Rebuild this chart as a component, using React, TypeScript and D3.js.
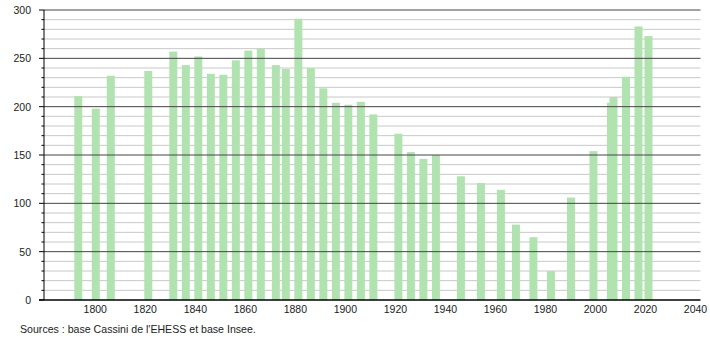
import React from "react";
import * as d3 from "d3";

const years = [1793, 1800, 1806, 1821, 1831, 1836, 1841, 1846, 1851, 1856, 1861, 1866, 1872, 1876, 1881, 1886, 1891, 1896, 1901, 1906, 1911, 1921, 1926, 1931, 1936, 1946, 1954, 1962, 1968, 1975, 1982, 1990, 1999, 2006, 2007, 2012, 2017, 2021];
const population = [211, 198, 232, 237, 257, 243, 252, 234, 233, 248, 258, 260, 243, 239, 291, 240, 219, 204, 202, 205, 192, 172, 153, 146, 150, 128, 121, 114, 78, 65, 30, 106, 154, 204, 210, 231, 283, 273];
const xTicks = [1800, 1820, 1840, 1860, 1880, 1900, 1920, 1940, 1960, 1980, 2000, 2020, 2040];
const yMajor = [0, 50, 100, 150, 200, 250, 300];
const yMinor = d3.range(0, 301, 10);
const sourceText = "Sources : base Cassini de l'EHESS et base Insee.";

const W = 710;
const H = 340;
const left = 44;
const right = 700.5;
const top = 10;
const bottom = 300;

export default function App() {
  const x = d3.scaleLinear().domain([1779.5, 2042]).range([left, right]);
  const y = d3.scaleLinear().domain([0, 300]).range([bottom, top]);
  const barW = 8;
  const font = "'Liberation Sans', Arial, Helvetica, sans-serif";
  return (
    <svg width={W} height={H} style={{ position: "absolute", left: 0, top: 0, background: "#fff" }} fontFamily={font}>
      {yMinor.filter((v) => v % 50 !== 0).map((v) => (
        <g key={"m" + v}>
          <line x1={left} x2={right} y1={y(v)} y2={y(v)} stroke="#c8c8c8" strokeWidth={1} />
          <line x1={left - 2.5} x2={left} y1={y(v)} y2={y(v)} stroke="#000" strokeWidth={1} />
        </g>
      ))}
      {years.map((yr, i) => (
        <rect key={yr} x={x(yr) - barW / 2 + 0.5} y={y(population[i])} width={barW} height={y(0) - y(population[i])} fill="#b1e3b1" />
      ))}
      {yMajor.map((v) => (
        <g key={"M" + v}>
          {v !== 0 && <line x1={left} x2={right} y1={y(v)} y2={y(v)} stroke="#444" strokeWidth={1} />}
          <line x1={left - 5} x2={left} y1={y(v)} y2={y(v)} stroke="#000" strokeWidth={1} />
          <text x={31} y={y(v) + 4} textAnchor="end" fontSize={10.5} fill="#222">{v}</text>
        </g>
      ))}
      <line x1={left} x2={left} y1={top} y2={bottom} stroke="#000" strokeWidth={1} />
      <line x1={left - 5} x2={right} y1={bottom} y2={bottom} stroke="#000" strokeWidth={1.5} />
      {xTicks.map((t) => (
        <text key={t} x={x(t)} y={313} textAnchor="middle" fontSize={10.5} fill="#222">{t}</text>
      ))}
      <text x={20} y={333} fontSize={10.6} fill="#222">{sourceText}</text>
    </svg>
  );
}
